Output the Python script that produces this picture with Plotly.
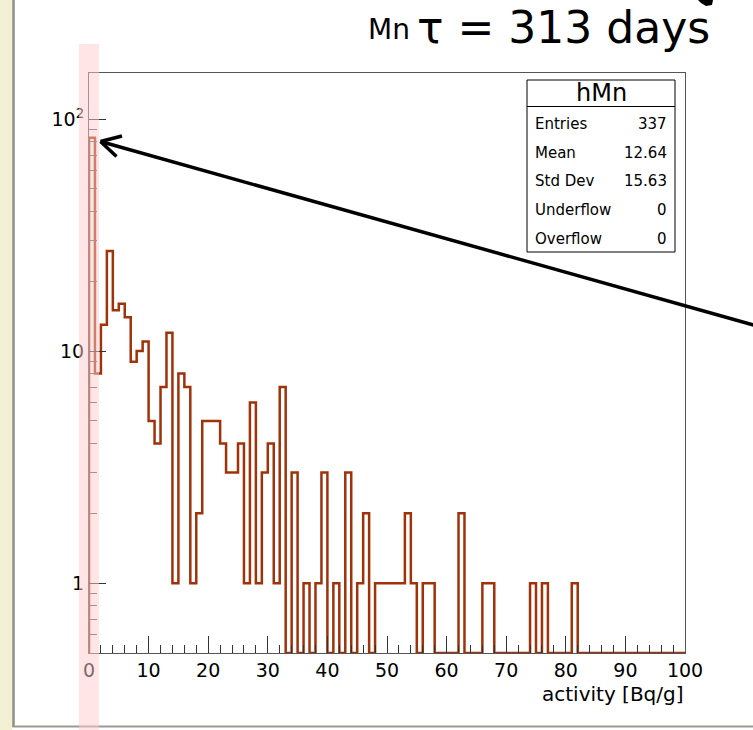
import plotly.graph_objects as go

# ---- data ----
bin_edges_start = list(range(0, 100))          # bin width 1, 0..100
counts = [83, 8, 13, 27, 15, 16, 14, 9, 10, 11,
          5, 4, 7, 12, 1, 8, 7, 1, 2, 5,
          5, 5, 4, 3, 3, 4, 1, 6, 1, 3,
          4, 1, 7, 0, 3, 0, 1, 0, 1, 3,
          0, 1, 0, 3, 0, 1, 2, 0, 1, 1,
          1, 1, 1, 2, 1, 0, 1, 1, 0, 0,
          0, 0, 2, 0, 0, 0, 1, 1, 0, 0,
          0, 0, 0, 0, 1, 0, 1, 0, 0, 0,
          0, 1, 0, 0, 0, 0, 0, 0, 0, 0,
          0, 0, 0, 0, 0, 0, 0, 0, 0, 0]
x_tick_vals = [0, 10, 20, 30, 40, 50, 60, 70, 80, 90, 100]
x_tick_text = ["0", "10", "20", "30", "40", "50", "60", "70", "80", "90", "100"]
y_tick_vals = [1, 10, 100]
y_tick_text = ["1", "10", "10<sup>2</sup>"]
stat_labels = ["Entries", "Mean", "Std Dev", "Underflow", "Overflow"]
stat_values = ["337", "12.64", "15.63", "0", "0"]
hist_name = "hMn"
element = "Mn"
title_text = "τ = 313 days"
x_title = "activity [Bq/g]"

# ---- layout geometry ----
W, H = 753, 730
L, R, T, B = 89, 68, 73, 77
PW, PH = W - L - R, H - T - B
YMIN, YMAX = 0.5, 158.0
FONT = "DejaVu Sans"
LINE_COL = "rgb(160,50,10)"


def px(xp):
    return (xp - L) / PW


def py(yp):
    return (H - B - yp) / PH


# step outline, zero bins sit on the bottom edge like ROOT
disp = [c if c > 0 else YMIN for c in counts]
xs = [bin_edges_start[0]] + bin_edges_start + [bin_edges_start[-1] + 1]
ys = [YMIN] + disp + [YMIN]

fig = go.Figure()
fig.add_trace(go.Scatter(x=xs, y=ys, mode="lines", line_shape="hv",
                         line=dict(color=LINE_COL, width=2.5),
                         hoverinfo="skip", showlegend=False))

minor_y = [0.6, 0.7, 0.8, 0.9] + [k for k in range(2, 10)] + [10 * k for k in range(2, 10)]

fig.update_xaxes(range=[0, 100], showline=True, linecolor="#555", linewidth=1,
                 mirror=True, showgrid=False, zeroline=False,
                 tickmode="array", tickvals=x_tick_vals, ticktext=x_tick_text,
                 ticks="inside", ticklen=17, tickcolor="#333", tickwidth=1,
                 tickfont=dict(family=FONT, size=19, color="black"),
                 minor=dict(ticks="inside", ticklen=8, dtick=2, tick0=0,
                            tickcolor="#333", tickwidth=1, showgrid=False))
fig.update_yaxes(type="log", range=[-0.30103, 2.19866], showline=True,
                 linecolor="#555", linewidth=1, mirror=True, showgrid=False,
                 zeroline=False, tickmode="array", tickvals=y_tick_vals,
                 ticktext=y_tick_text, ticks="inside", ticklen=17,
                 tickcolor="#333", tickwidth=1,
                 tickfont=dict(family=FONT, size=19, color="black"),
                 minor=dict(ticks="inside", ticklen=8, tickmode="array",
                            tickvals=minor_y, tickcolor="#555", tickwidth=1,
                            showgrid=False))

shapes = []
# window decoration on the left / bottom
shapes.append(dict(type="rect", xref="paper", yref="paper", x0=px(0), x1=px(12),
                   y0=py(0), y1=py(H), line=dict(width=0), fillcolor="#f3f1d4",
                   layer="below"))
shapes.append(dict(type="line", xref="paper", yref="paper", x0=px(13.5), x1=px(13.5),
                   y0=py(0), y1=py(727), line=dict(color="#8e8e86", width=2.5)))
shapes.append(dict(type="line", xref="paper", yref="paper", x0=px(12.5), x1=px(W),
                   y0=py(726.5), y1=py(726.5), line=dict(color="#9a9a92", width=2)))
# stats box
box_x0, box_x1, box_y0, box_y1, hdr_y = 527, 675, 80, 252, 106.5
shapes.append(dict(type="rect", xref="paper", yref="paper", x0=px(box_x0), x1=px(box_x1),
                   y0=py(box_y1), y1=py(box_y0), line=dict(color="black", width=1),
                   fillcolor="white", layer="above"))
shapes.append(dict(type="line", xref="paper", yref="paper", x0=px(box_x0), x1=px(box_x1),
                   y0=py(hdr_y), y1=py(hdr_y), line=dict(color="black", width=1),
                   layer="above"))
# arrow pointing at the first bin
tip = (100.5, 141.5)
shapes.append(dict(type="line", xref="paper", yref="paper", x0=px(tip[0]), y0=py(tip[1]),
                   x1=px(790), y1=py(141.5 + 0.281 * 689.5), line=dict(color="black", width=3.5),
                   layer="above"))
shapes.append(dict(type="line", xref="paper", yref="paper", x0=px(tip[0]), y0=py(tip[1]),
                   x1=px(122), y1=py(136), line=dict(color="black", width=3.5), layer="above"))
shapes.append(dict(type="line", xref="paper", yref="paper", x0=px(tip[0]), y0=py(tip[1]),
                   x1=px(116.5), y1=py(156.5), line=dict(color="black", width=3.5), layer="above"))
# small black fragment at the top right
blob = [(698, 0), (713, 0), (712, 5), (706, 6), (701, 3)]
path = "M " + " L ".join(f"{px(a):.5f},{py(b):.5f}" for a, b in blob) + " Z"
shapes.append(dict(type="path", xref="paper", yref="paper", path=path,
                   fillcolor="black", line=dict(width=0), layer="above"))
# translucent pink highlight band over the x=0 region
shapes.append(dict(type="rect", xref="paper", yref="paper", x0=px(79), x1=px(99),
                   y0=py(H), y1=py(44), line=dict(width=0),
                   fillcolor="rgba(255,204,204,0.5)", layer="above"))

annotations = []
annotations.append(dict(xref="paper", yref="paper", x=px(601), y=py(93), text=hist_name,
                        showarrow=False, xanchor="center", yanchor="middle",
                        font=dict(family=FONT, size=24, color="black")))
row_y = [124, 152.7, 181.4, 210, 238.7]
for lab, val, yy in zip(stat_labels, stat_values, row_y):
    annotations.append(dict(xref="paper", yref="paper", x=px(533), y=py(yy), text=lab,
                            showarrow=False, xanchor="left", yanchor="middle",
                            font=dict(family=FONT, size=15, color="black")))
    annotations.append(dict(xref="paper", yref="paper", x=px(669), y=py(yy), text=val,
                            showarrow=False, xanchor="right", yanchor="middle",
                            font=dict(family=FONT, size=15, color="black")))
annotations.append(dict(xref="paper", yref="paper", x=px(366), y=py(29), text=element,
                        showarrow=False, xanchor="left", yanchor="middle",
                        font=dict(family=FONT, size=28, color="black")))
annotations.append(dict(xref="paper", yref="paper", x=px(712), y=py(28), text=title_text,
                        showarrow=False, xanchor="right", yanchor="middle",
                        font=dict(family=FONT, size=44, color="black")))
annotations.append(dict(xref="paper", yref="paper", x=px(686), y=py(694), text=x_title,
                        showarrow=False, xanchor="right", yanchor="middle",
                        font=dict(family=FONT, size=20, color="black")))

fig.update_layout(width=W, height=H, margin=dict(l=L, r=R, t=T, b=B, pad=0),
                  paper_bgcolor="white", plot_bgcolor="white",
                  shapes=shapes, annotations=annotations, showlegend=False)

fig.write_html("out.html")
